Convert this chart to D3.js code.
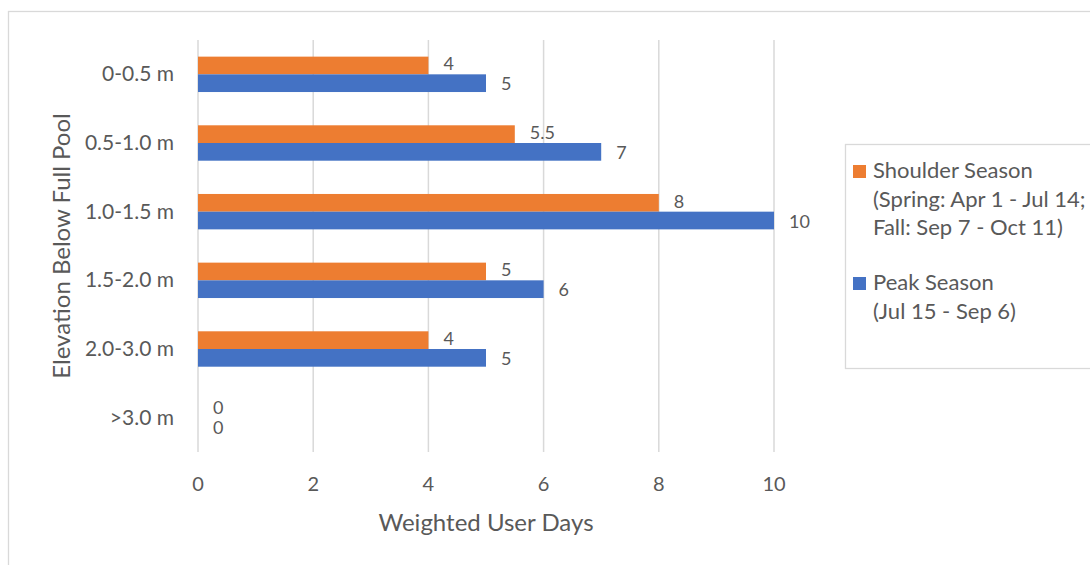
<!DOCTYPE html>
<html>
<head>
<meta charset="utf-8">
<script src="https://cdn.jsdelivr.net/npm/d3@7"></script>
<style>
  body { margin: 0; background: #fff; }
  text { font-family: Lato, "Open Sans", sans-serif; fill: #595959; }
</style>
</head>
<body>
<div id="chart"></div>
<script>
// chart data
const categories = ['0-0.5 m', '0.5-1.0 m', '1.0-1.5 m', '1.5-2.0 m', '2.0-3.0 m', '>3.0 m'];
const seriesNames = ['Shoulder Season', 'Peak Season'];
const shoulderValues = [4, 5.5, 8, 5, 4, 0];
const peakValues = [5, 7, 10, 6, 5, 0];
const xTicks = [0, 2, 4, 6, 8, 10];
const legendLines = [
	['Shoulder Season', '(Spring: Apr 1 - Jul 14;', 'Fall: Sep 7 - Oct 11)'],
	['Peak Season', '(Jul 15 - Sep 6)']
];
const colors = ['#ED7D31', '#4472C4'];

let width = 1090, height = 565;
let svg = d3.select('#chart')
	.append('svg')
	.attr('width', width)
	.attr('height', height);

// outer chart border
svg.append('rect')
	.attr('x', 8.5)
	.attr('y', 11.5)
	.attr('width', 1100)
	.attr('height', 600)
	.attr('fill', 'none')
	.attr('stroke', '#d9d9d9')
	.attr('stroke-width', 1.3);

let x = d3.scaleLinear().domain([0, 10]).range([198, 774]);
let y0 = d3.scaleBand().domain(categories).range([40, 452]).padding(0);
let y1 = d3.scaleBand().domain(seriesNames).range([0, y0.bandwidth()])
	.paddingInner(0).paddingOuter(0.94);

// gridlines
svg.append('g')
	.selectAll('line')
	.data(xTicks)
	.join('line')
	.attr('x1', d => x(d))
	.attr('x2', d => x(d))
	.attr('y1', 40)
	.attr('y2', 452)
	.attr('stroke', '#d9d9d9')
	.attr('stroke-width', 1.5);

// x tick labels
svg.append('g')
	.selectAll('text')
	.data(xTicks)
	.join('text')
	.text(d => d)
	.attr('x', d => x(d))
	.attr('y', 491)
	.attr('text-anchor', 'middle')
	.attr('font-size', '20px');

// y category labels
svg.append('g')
	.selectAll('text')
	.data(categories)
	.join('text')
	.text(d => d)
	.attr('x', 174)
	.attr('y', d => y0(d) + y0.bandwidth() / 2 + 7)
	.attr('text-anchor', 'end')
	.attr('font-size', '21px');

let rows = categories.map((c, i) => ({
	cat: c,
	vals: [shoulderValues[i], peakValues[i]]
}));

let groups = svg.append('g')
	.selectAll('g')
	.data(rows)
	.join('g')
	.attr('transform', d => `translate(0,${y0(d.cat)})`);

groups.selectAll('rect')
	.data(d => d.vals.map((v, j) => ({ v: v, s: seriesNames[j], j: j })))
	.join('rect')
	.attr('x', x(0))
	.attr('y', d => y1(d.s))
	.attr('width', d => x(d.v) - x(0))
	.attr('height', y1.bandwidth())
	.attr('fill', d => colors[d.j]);

// data labels, nudged apart a little as in the original
groups.selectAll('text')
	.data(d => d.vals.map((v, j) => ({ v: v, s: seriesNames[j], j: j })))
	.join('text')
	.text(d => d.v)
	.attr('x', d => x(d.v) + 15)
	.attr('y', d => y1(d.s) + y1.bandwidth() / 2 + (d.j == 0 ? 5 : 7))
	.attr('font-size', '18px');

// axis titles
svg.append('text')
	.text('Weighted User Days')
	.attr('x', 486)
	.attr('y', 531)
	.attr('text-anchor', 'middle')
	.attr('font-size', '24px');

svg.append('text')
	.text('Elevation Below Full Pool')
	.attr('transform', 'translate(70,246) rotate(-90)')
	.attr('text-anchor', 'middle')
	.attr('font-size', '24px');

// legend
svg.append('rect')
	.attr('x', 845.5)
	.attr('y', 144.5)
	.attr('width', 300)
	.attr('height', 224)
	.attr('fill', 'none')
	.attr('stroke', '#d9d9d9')
	.attr('stroke-width', 1.3);

let legendTop = [171, 283];
legendLines.forEach((lines, k) => {
	svg.append('rect')
		.attr('x', 853)
		.attr('y', legendTop[k] - 6)
		.attr('width', 13)
		.attr('height', 13)
		.attr('fill', colors[k]);
	svg.append('g')
		.selectAll('text')
		.data(lines)
		.join('text')
		.text(d => d)
		.attr('x', 873)
		.attr('y', (d, i) => legendTop[k] + 7 + i * 28.6)
		.attr('font-size', '22px');
});
</script>
</body>
</html>
